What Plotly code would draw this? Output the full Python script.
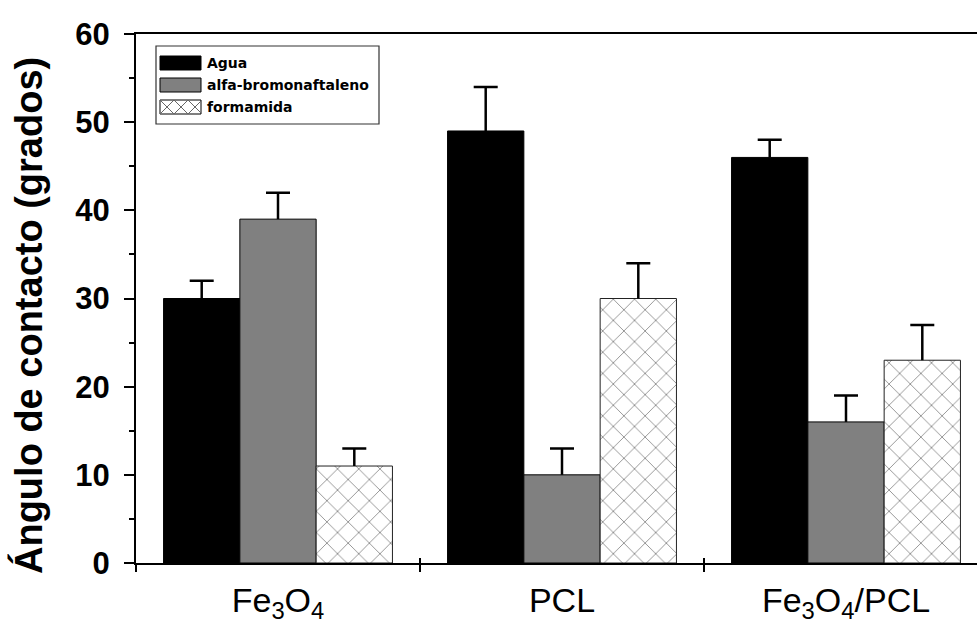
import plotly.graph_objects as go

# Contact angle data (degrees) for three liquids on three surfaces
categories = ["Fe<sub>3</sub>O<sub>4</sub>", "PCL", "Fe<sub>3</sub>O<sub>4</sub>/PCL"]
cat_keys = ["Fe3O4", "PCL", "Fe3O4/PCL"]
agua = [30, 49, 46]
agua_err = [2, 5, 2]
alfa = [39, 10, 16]
alfa_err = [3, 3, 3]
formamida = [11, 30, 23]
formamida_err = [2, 4, 4]
series_names = ["Agua", "alfa-bromonaftaleno", "formamida"]

W, H = 977, 628
L, R, T, B = 136, 0, 34, 65
PW, PH = W - L - R, H - T - B


def px(x):
    return (x - L) / PW


def py(y):
    return (H - B - y) / PH


fills = [
    dict(color="black", line=dict(color="black", width=1)),
    dict(color="#808080", line=dict(color="black", width=1)),
    dict(color="white", line=dict(color="#222222", width=1),
         pattern=dict(shape="x", size=15, solidity=0.12,
                      fgcolor="#222222", bgcolor="white")),
]
values = [agua, alfa, formamida]
errors = [agua_err, alfa_err, formamida_err]
groups = ["g1", "g2", "g3"]

fig = go.Figure()
# Bars with the upward stem of each error bar
for name, vals, errs, mk, grp in zip(series_names, values, errors, fills, groups):
    fig.add_trace(go.Bar(x=cat_keys, y=vals, name=name, offsetgroup=grp, marker=mk,
                         error_y=dict(type="data", array=errs, arrayminus=[0] * len(errs),
                                      symmetric=False, color="black", thickness=2.5,
                                      width=0)))
# Caps at the top end of each error bar only
for vals, errs, grp in zip(values, errors, groups):
    tops = [v + e for v, e in zip(vals, errs)]
    fig.add_trace(go.Bar(x=cat_keys, y=tops, offsetgroup=grp, showlegend=False,
                         hoverinfo="skip",
                         marker=dict(color="rgba(0,0,0,0)", line=dict(width=0)),
                         error_y=dict(type="data", array=[0] * len(tops), color="black",
                                      thickness=2.5, width=12)))

# Hidden trace carrying the secondary axis used for the inner half of the category ticks
fig.add_trace(go.Scatter(x=cat_keys, y=[0, 0, 0], xaxis="x2", mode="markers",
                         marker=dict(opacity=0), hoverinfo="skip", showlegend=False))

xrange = [-0.5, -0.5 + PW / 284.0]

fig.update_layout(
    width=W, height=H,
    margin=dict(l=L, r=R, t=T, b=B, autoexpand=False),
    paper_bgcolor="white", plot_bgcolor="white",
    barmode="group", bargap=0.194, bargroupgap=0,
    showlegend=False,
    xaxis=dict(type="category", categoryarray=cat_keys, range=xrange,
               tickmode="array", tickvals=cat_keys, ticktext=categories,
               tickson="boundaries", ticks="outside", ticklen=7, tickwidth=1.5,
               tickcolor="black", showline=True, linecolor="black", linewidth=2,
               mirror=True, showgrid=False, zeroline=False, ticklabelstandoff=6,
               tickfont=dict(family="Liberation Sans, Arial", size=34, color="black")),
    xaxis2=dict(type="category", categoryarray=cat_keys, range=xrange,
                overlaying="x", anchor="y", side="bottom",
                tickmode="array", tickvals=cat_keys, tickson="boundaries",
                ticks="inside", ticklen=5, tickwidth=1.5, tickcolor="black",
                showticklabels=False, showline=False, showgrid=False, zeroline=False),
    yaxis=dict(range=[0, 60], dtick=10, tick0=0, ticks="outside", ticklen=10,
               tickwidth=1.5, tickcolor="black", showline=True, linecolor="black",
               linewidth=2, showgrid=False, zeroline=False, ticklabelstandoff=8,
               minor=dict(dtick=5, ticks="outside", ticklen=5, tickwidth=1.5,
                          tickcolor="black", showgrid=False),
               tickfont=dict(family="Liberation Sans, Arial", size=31, color="black",
                             weight="bold")),
)

# Axis title
fig.add_annotation(text="Ángulo de contacto (grados)", xref="paper", yref="paper",
                   x=px(28), y=py(316), textangle=-90, showarrow=False,
                   xanchor="center", yanchor="middle",
                   font=dict(family="Liberation Sans, Arial", size=38, color="black",
                             weight="bold"))

# Legend box
shapes = [dict(type="rect", xref="paper", yref="paper",
               x0=px(156), x1=px(379), y0=py(46), y1=py(124),
               line=dict(color="#333333", width=1.2), fillcolor="white", layer="above")]
swatches = [(56, 70, "black"), (78, 92, "#808080"), (100, 114, "white")]
for (top, bot, col) in swatches:
    shapes.append(dict(type="rect", xref="paper", yref="paper",
                       x0=px(160), x1=px(201), y0=py(top), y1=py(bot),
                       line=dict(color="black", width=1), fillcolor=col, layer="above"))

# Crosshatch inside the formamida swatch
sx0, sx1, st, sb = 160, 201, 100, 114
step = 14
path = ""
k = sx0
while k < sx1:
    x_end = min(k + step, sx1)
    y_end = st + (x_end - k)
    path += f"M{px(k)},{py(st)} L{px(x_end)},{py(y_end)} "
    path += f"M{px(k)},{py(sb)} L{px(x_end)},{py(sb - (x_end - k))} "
    k += step
shapes.append(dict(type="path", xref="paper", yref="paper", path=path,
                   line=dict(color="#666666", width=1), layer="above"))
fig.update_layout(shapes=shapes)

for name, yc in zip(series_names, [63, 85, 107]):
    fig.add_annotation(text=name, xref="paper", yref="paper", x=px(205), y=py(yc),
                       xanchor="left", yanchor="middle", showarrow=False,
                       font=dict(family="DejaVu Sans", size=14, color="black",
                                 weight="bold"))

fig.write_html("out.html")
